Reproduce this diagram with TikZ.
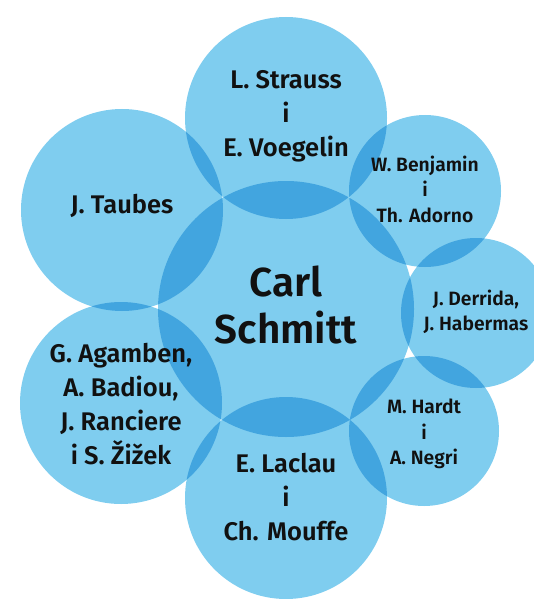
\documentclass[tikz,border=0pt]{standalone}
\usepackage{fontspec}
\setmainfont{Fira Sans}[BoldFont={Fira Sans SemiBold}]
\usepackage{tikz}
\usetikzlibrary{backgrounds}
\definecolor{BubbleLight}{HTML}{7FCDEF}
\definecolor{BubbleDark}{HTML}{42A5DF}
\definecolor{BubbleText}{HTML}{111111}
\tikzset{
  bubble/.style={inner sep=0pt, align=center, text=BubbleText},
  bigtext/.style={bubble, font=\fontsize{25.5}{34}\selectfont\bfseries},
  smalltext/.style={bubble, font=\fontsize{19.3}{25.5}\selectfont\bfseries},
  coretext/.style={bubble, font=\fontsize{40.5}{47}\selectfont\bfseries},
}
\begin{document}
\begin{tikzpicture}[x=1pt,y=-1pt]
  \useasboundingbox (0,0) rectangle (533,599);
  \node[coretext] (schmitt) at (286,305) {Carl\\Schmitt};
  \node[bigtext] (strauss) at (286,116) {L. Strauss\\i\\E. Voegelin};
  \node[bigtext] (taubes) at (122,206) {J. Taubes};
  \node[bigtext] (agamben) at (121,404) {G. Agamben,\\A. Badiou,\\J. Ranciere\\i S. Žižek};
  \node[bigtext] (laclau) at (286,497) {E. Laclau\\i\\Ch. Mouffe};
  \node[smalltext] (benjamin) at (425,189) {W. Benjamin\\i\\Th. Adorno};
  \node[smalltext] (derrida) at (476,312) {J. Derrida,\\J. Habermas};
  \node[smalltext] (hardt) at (424,434) {M. Hardt\\i\\A. Negri};
  \begin{scope}[on background layer]
    % discs
    \fill[BubbleLight] (286,309) circle[radius=128];
    \fill[BubbleLight] (286,118) circle[radius=101];
    \fill[BubbleLight] (122,210) circle[radius=101];
    \fill[BubbleLight] (121,403) circle[radius=101];
    \fill[BubbleLight] (286,498) circle[radius=101];
    \fill[BubbleLight] (425,191) circle[radius=76];
    \fill[BubbleLight] (476,313) circle[radius=75];
    \fill[BubbleLight] (424,431) circle[radius=75];
    % overlaps
    \foreach \ax/\ay/\ar/\bx/\by/\br in {
        286/309/128/286/118/101, 286/309/128/122/210/101,
        286/309/128/121/403/101, 286/309/128/286/498/101,
        286/309/128/425/191/76, 286/309/128/476/313/75,
        286/309/128/424/431/75,
        286/118/101/122/210/101, 286/118/101/425/191/76,
        425/191/76/476/313/75, 476/313/75/424/431/75,
        424/431/75/286/498/101, 286/498/101/121/403/101,
        121/403/101/122/210/101}{
      \begin{scope}
        \clip (\ax,\ay) circle[radius=\ar];
        \fill[BubbleDark] (\bx,\by) circle[radius=\br];
      \end{scope}
    }
  \end{scope}
\end{tikzpicture}
\end{document}
